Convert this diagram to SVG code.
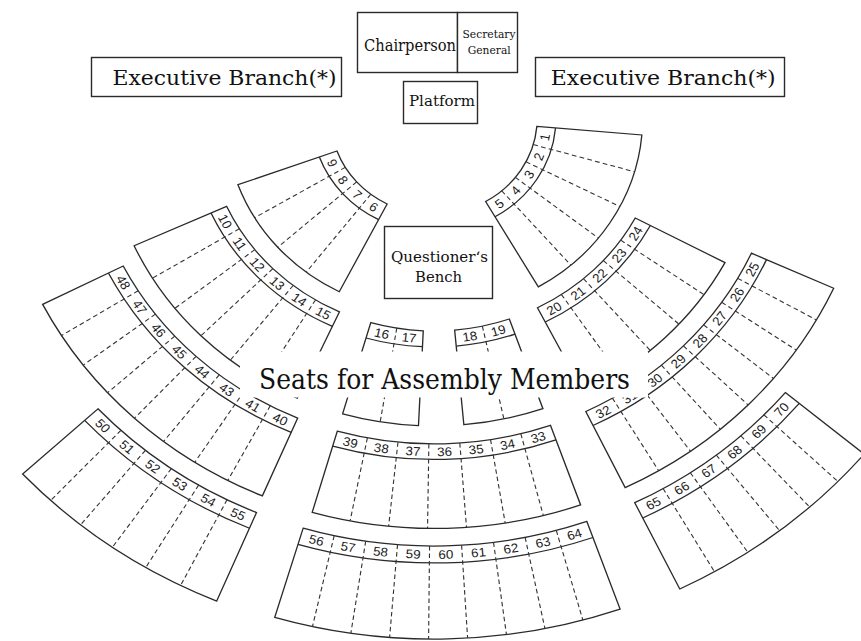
<svg xmlns="http://www.w3.org/2000/svg" width="861" height="641" viewBox="0 0 861 641">
<style>
.box{fill:#fff;stroke:#2a2a2a;stroke-width:1.4}
.ser{fill:#111;text-anchor:middle}
.blk{fill:#fff;stroke:#2a2a2a;stroke-width:1.25}
.strip{fill:none;stroke:#2a2a2a;stroke-width:1.25}
.dash{fill:none;stroke:#333;stroke-width:1.05;stroke-dasharray:4.5 3}
.num{font-family:'Liberation Sans',Arial,sans-serif;font-size:12.5px;fill:#1a1a1a;text-anchor:middle;dominant-baseline:central}
</style>
<rect width="861" height="641" fill="#fff"/>

<g id="chairperson">
<rect class="box" x="357.5" y="12.5" width="100" height="60"/>
<text class="ser" font-family="DejaVu Serif" x="410" y="51" font-size="16" textLength="92" lengthAdjust="spacingAndGlyphs">Chairperson</text>
</g>
<g id="secretary-general">
<rect class="box" x="457.5" y="12.5" width="60" height="60"/>
<text class="ser" font-family="DejaVu Serif" x="489" y="38" font-size="11" textLength="53" lengthAdjust="spacingAndGlyphs">Secretary</text>
<text class="ser" font-family="DejaVu Serif" x="489.2" y="53.5" font-size="11" textLength="43" lengthAdjust="spacingAndGlyphs">General</text>
</g>
<g id="platform">
<rect class="box" x="403.5" y="81.5" width="74" height="42"/>
<text class="ser" font-family="DejaVu Serif" x="442" y="106" font-size="15" textLength="66" lengthAdjust="spacingAndGlyphs">Platform</text>
</g>
<g id="executive-left">
<rect class="box" x="91.5" y="57.5" width="250" height="39"/>
<text class="ser" font-family="DejaVu Serif" x="224.5" y="84.5" font-size="20.5" textLength="224" lengthAdjust="spacingAndGlyphs">Executive Branch(*)</text>
</g>
<g id="executive-right">
<rect class="box" x="535.5" y="57.5" width="249" height="39"/>
<text class="ser" font-family="DejaVu Serif" x="663.2" y="84.5" font-size="20.5" textLength="225" lengthAdjust="spacingAndGlyphs">Executive Branch(*)</text>
</g>
<g id="questioners-bench">
<rect class="box" x="384.5" y="226.5" width="108" height="72"/>
<text class="ser" font-family="DejaVu Serif" x="439.5" y="262" font-size="14.5" textLength="97" lengthAdjust="spacingAndGlyphs">Questioner‘s</text>
<text class="ser" font-family="DejaVu Serif" x="438.5" y="282" font-size="14.5" textLength="47" lengthAdjust="spacingAndGlyphs">Bench</text>
</g>

<g id="seating" transform="translate(434 118) scale(1.07 1)">

<g id="seats-1-5" transform="rotate(5)">
<path class="blk" d="M96.5 0 L195 0 A195 195 0 0 1 111.85 159.74 L55.35 79.05 A96.5 96.5 0 0 0 96.5 0 Z"/>
<path class="strip" d="M114 0 A114 114 0 0 1 65.39 93.39"/>
<g class="dash"><line x1="96.5" x2="195" transform="rotate(11)"/><line x1="96.5" x2="195" transform="rotate(22)"/><line x1="96.5" x2="195" transform="rotate(33)"/><line x1="96.5" x2="195" transform="rotate(44)"/></g>
<text class="num" transform="rotate(5.5) translate(105.25 0) rotate(-90)">1</text>
<text class="num" transform="rotate(16.5) translate(105.25 0) rotate(-90)">2</text>
<text class="num" transform="rotate(27.5) translate(105.25 0) rotate(-90)">3</text>
<text class="num" transform="rotate(38.5) translate(105.25 0) rotate(-90)">4</text>
<text class="num" transform="rotate(49.5) translate(105.25 0) rotate(-90)">5</text>
</g>

<g id="seats-6-9" transform="rotate(117)">
<path class="blk" d="M96.5 0 L195 0 A195 195 0 0 1 142.62 132.99 L70.58 65.81 A96.5 96.5 0 0 0 96.5 0 Z"/>
<path class="strip" d="M114 0 A114 114 0 0 1 83.38 77.75"/>
<g class="dash"><line x1="96.5" x2="195" transform="rotate(10.75)"/><line x1="96.5" x2="195" transform="rotate(21.5)"/><line x1="96.5" x2="195" transform="rotate(32.25)"/></g>
<text class="num" transform="rotate(5.375) translate(105.25 0) rotate(-90)">6</text>
<text class="num" transform="rotate(16.125) translate(105.25 0) rotate(-90)">7</text>
<text class="num" transform="rotate(26.875) translate(105.25 0) rotate(-90)">8</text>
<text class="num" transform="rotate(37.625) translate(105.25 0) rotate(-90)">9</text>
</g>

<g id="seats-10-15" transform="rotate(114.5)">
<path class="blk" d="M213 0 L308 0 A308 308 0 0 1 232.45 202.08 L160.75 139.75 A213 213 0 0 0 213 0 Z"/>
<path class="strip" d="M229 0 A229 229 0 0 1 172.83 150.25"/>
<g class="dash"><line x1="213" x2="308" transform="rotate(6.833)"/><line x1="213" x2="308" transform="rotate(13.667)"/><line x1="213" x2="308" transform="rotate(20.5)"/><line x1="213" x2="308" transform="rotate(27.333)"/><line x1="213" x2="308" transform="rotate(34.167)"/></g>
<text class="num" transform="rotate(3.417) translate(221 0) rotate(-90)">15</text>
<text class="num" transform="rotate(10.25) translate(221 0) rotate(-90)">14</text>
<text class="num" transform="rotate(17.083) translate(221 0) rotate(-90)">13</text>
<text class="num" transform="rotate(23.917) translate(221 0) rotate(-90)">12</text>
<text class="num" transform="rotate(30.75) translate(221 0) rotate(-90)">11</text>
<text class="num" transform="rotate(37.583) translate(221 0) rotate(-90)">10</text>
</g>

<g id="seats-16-17" transform="rotate(92.7)">
<path class="blk" d="M213 0 L308 0 A308 308 0 0 1 299.6 71.38 L207.19 49.36 A213 213 0 0 0 213 0 Z"/>
<path class="strip" d="M229 0 A229 229 0 0 1 222.76 53.07"/>
<g class="dash"><line x1="213" x2="308" transform="rotate(6.7)"/></g>
<text class="num" transform="rotate(3.35) translate(221 0) rotate(-90)">17</text>
<text class="num" transform="rotate(10.05) translate(221 0) rotate(-90)">16</text>
</g>

<g id="seats-18-19" transform="rotate(70.7)">
<path class="blk" d="M213 0 L308 0 A308 308 0 0 1 298.72 75.03 L206.58 51.89 A213 213 0 0 0 213 0 Z"/>
<path class="strip" d="M229 0 A229 229 0 0 1 222.1 55.79"/>
<g class="dash"><line x1="213" x2="308" transform="rotate(7.05)"/></g>
<text class="num" transform="rotate(3.525) translate(221 0) rotate(-90)">19</text>
<text class="num" transform="rotate(10.575) translate(221 0) rotate(-90)">18</text>
</g>

<g id="seats-20-24" transform="rotate(28)">
<path class="blk" d="M213 0 L308 0 A308 308 0 0 1 252.31 176.67 L174.49 122.18 A213 213 0 0 0 213 0 Z"/>
<path class="strip" d="M229 0 A229 229 0 0 1 187.6 131.35"/>
<g class="dash"><line x1="213" x2="308" transform="rotate(7)"/><line x1="213" x2="308" transform="rotate(14)"/><line x1="213" x2="308" transform="rotate(21)"/><line x1="213" x2="308" transform="rotate(28)"/></g>
<text class="num" transform="rotate(3.5) translate(221 0) rotate(-90)">24</text>
<text class="num" transform="rotate(10.5) translate(221 0) rotate(-90)">23</text>
<text class="num" transform="rotate(17.5) translate(221 0) rotate(-90)">22</text>
<text class="num" transform="rotate(24.5) translate(221 0) rotate(-90)">21</text>
<text class="num" transform="rotate(31.5) translate(221 0) rotate(-90)">20</text>
</g>

<g id="seats-40-48" transform="rotate(113)">
<path class="blk" d="M326 0 L410.5 0 A410.5 410.5 0 0 1 314.44 263.87 L249.72 209.55 A326 326 0 0 0 326 0 Z"/>
<path class="strip" d="M341.5 0 A341.5 341.5 0 0 1 261.59 219.52"/>
<g class="dash"><line x1="326" x2="410.5" transform="rotate(5)"/><line x1="326" x2="410.5" transform="rotate(10)"/><line x1="326" x2="410.5" transform="rotate(15)"/><line x1="326" x2="410.5" transform="rotate(20)"/><line x1="326" x2="410.5" transform="rotate(25)"/><line x1="326" x2="410.5" transform="rotate(30)"/><line x1="326" x2="410.5" transform="rotate(35)"/></g>
<text class="num" transform="rotate(2.5) translate(333.75 0) rotate(-90)">40</text>
<text class="num" transform="rotate(7.5) translate(333.75 0) rotate(-90)">41</text>
<text class="num" transform="rotate(12.5) translate(333.75 0) rotate(-90)">43</text>
<text class="num" transform="rotate(17.5) translate(333.75 0) rotate(-90)">44</text>
<text class="num" transform="rotate(22.5) translate(333.75 0) rotate(-90)">45</text>
<text class="num" transform="rotate(27.5) translate(333.75 0) rotate(-90)">46</text>
<text class="num" transform="rotate(32.5) translate(333.75 0) rotate(-90)">47</text>
<text class="num" transform="rotate(37.5) translate(333.75 0) rotate(-90)">48</text>
</g>

<g id="seats-33-39" transform="rotate(70.5)">
<path class="blk" d="M326 0 L410.5 0 A410.5 410.5 0 0 1 333.77 238.96 L265.06 189.77 A326 326 0 0 0 326 0 Z"/>
<path class="strip" d="M341.5 0 A341.5 341.5 0 0 1 277.66 198.79"/>
<g class="dash"><line x1="326" x2="410.5" transform="rotate(5.086)"/><line x1="326" x2="410.5" transform="rotate(10.171)"/><line x1="326" x2="410.5" transform="rotate(15.257)"/><line x1="326" x2="410.5" transform="rotate(20.343)"/><line x1="326" x2="410.5" transform="rotate(25.429)"/><line x1="326" x2="410.5" transform="rotate(30.514)"/></g>
<text class="num" transform="rotate(2.543) translate(333.75 0) rotate(-90)">33</text>
<text class="num" transform="rotate(7.629) translate(333.75 0) rotate(-90)">34</text>
<text class="num" transform="rotate(12.714) translate(333.75 0) rotate(-90)">35</text>
<text class="num" transform="rotate(17.8) translate(333.75 0) rotate(-90)">36</text>
<text class="num" transform="rotate(22.886) translate(333.75 0) rotate(-90)">37</text>
<text class="num" transform="rotate(27.971) translate(333.75 0) rotate(-90)">38</text>
<text class="num" transform="rotate(33.057) translate(333.75 0) rotate(-90)">39</text>
</g>

<g id="seats-25-32" transform="rotate(24.5)">
<path class="blk" d="M326 0 L410.5 0 A410.5 410.5 0 0 1 315.83 262.21 L250.81 208.23 A326 326 0 0 0 326 0 Z"/>
<path class="strip" d="M341.5 0 A341.5 341.5 0 0 1 262.74 218.13"/>
<g class="dash"><line x1="326" x2="410.5" transform="rotate(4.963)"/><line x1="326" x2="410.5" transform="rotate(9.925)"/><line x1="326" x2="410.5" transform="rotate(14.888)"/><line x1="326" x2="410.5" transform="rotate(19.85)"/><line x1="326" x2="410.5" transform="rotate(24.813)"/><line x1="326" x2="410.5" transform="rotate(29.775)"/><line x1="326" x2="410.5" transform="rotate(34.738)"/></g>
<text class="num" transform="rotate(2.481) translate(333.75 0) rotate(-90)">25</text>
<text class="num" transform="rotate(7.444) translate(333.75 0) rotate(-90)">26</text>
<text class="num" transform="rotate(12.406) translate(333.75 0) rotate(-90)">27</text>
<text class="num" transform="rotate(17.369) translate(333.75 0) rotate(-90)">28</text>
<text class="num" transform="rotate(22.331) translate(333.75 0) rotate(-90)">29</text>
<text class="num" transform="rotate(27.294) translate(333.75 0) rotate(-90)">30</text>
<text class="num" transform="rotate(32.256) translate(333.75 0) rotate(-90)">31</text>
<text class="num" transform="rotate(37.219) translate(333.75 0) rotate(-90)">32</text>
</g>

<g id="seats-50-55" transform="rotate(112.8)">
<path class="blk" d="M428 0 L524 0 A524 524 0 0 1 477.18 216.46 L389.76 176.8 A428 428 0 0 0 428 0 Z"/>
<path class="strip" d="M445 0 A445 445 0 0 1 405.24 183.83"/>
<g class="dash"><line x1="428" x2="524" transform="rotate(4.067)"/><line x1="428" x2="524" transform="rotate(8.133)"/><line x1="428" x2="524" transform="rotate(12.2)"/><line x1="428" x2="524" transform="rotate(16.267)"/><line x1="428" x2="524" transform="rotate(20.333)"/></g>
<text class="num" transform="rotate(2.033) translate(436.5 0) rotate(-90)">55</text>
<text class="num" transform="rotate(6.1) translate(436.5 0) rotate(-90)">54</text>
<text class="num" transform="rotate(10.167) translate(436.5 0) rotate(-90)">53</text>
<text class="num" transform="rotate(14.233) translate(436.5 0) rotate(-90)">52</text>
<text class="num" transform="rotate(18.3) translate(436.5 0) rotate(-90)">51</text>
<text class="num" transform="rotate(22.367) translate(436.5 0) rotate(-90)">50</text>
</g>

<g id="seats-56-64" transform="rotate(70.5)">
<path class="blk" d="M428 0 L521 0 A521 521 0 0 1 420.96 306.97 L345.82 252.17 A428 428 0 0 0 428 0 Z"/>
<path class="strip" d="M445 0 A445 445 0 0 1 359.55 262.19"/>
<g class="dash"><line x1="428" x2="521" transform="rotate(4.011)"/><line x1="428" x2="521" transform="rotate(8.022)"/><line x1="428" x2="521" transform="rotate(12.033)"/><line x1="428" x2="521" transform="rotate(16.044)"/><line x1="428" x2="521" transform="rotate(20.056)"/><line x1="428" x2="521" transform="rotate(24.067)"/><line x1="428" x2="521" transform="rotate(28.078)"/><line x1="428" x2="521" transform="rotate(32.089)"/></g>
<text class="num" transform="rotate(2.006) translate(436.5 0) rotate(-90)">64</text>
<text class="num" transform="rotate(6.017) translate(436.5 0) rotate(-90)">63</text>
<text class="num" transform="rotate(10.028) translate(436.5 0) rotate(-90)">62</text>
<text class="num" transform="rotate(14.039) translate(436.5 0) rotate(-90)">61</text>
<text class="num" transform="rotate(18.05) translate(436.5 0) rotate(-90)">60</text>
<text class="num" transform="rotate(22.061) translate(436.5 0) rotate(-90)">59</text>
<text class="num" transform="rotate(26.072) translate(436.5 0) rotate(-90)">58</text>
<text class="num" transform="rotate(30.083) translate(436.5 0) rotate(-90)">57</text>
<text class="num" transform="rotate(34.094) translate(436.5 0) rotate(-90)">56</text>
</g>

<g id="seats-65-70" transform="rotate(39.9)">
<path class="blk" d="M428 0 L524 0 A524 524 0 0 1 478.32 213.96 L390.69 174.77 A428 428 0 0 0 428 0 Z"/>
<path class="strip" d="M445 0 A445 445 0 0 1 406.21 181.71"/>
<g class="dash"><line x1="428" x2="524" transform="rotate(4.017)"/><line x1="428" x2="524" transform="rotate(8.033)"/><line x1="428" x2="524" transform="rotate(12.05)"/><line x1="428" x2="524" transform="rotate(16.067)"/><line x1="428" x2="524" transform="rotate(20.083)"/></g>
<text class="num" transform="rotate(2.008) translate(436.5 0) rotate(-90)">70</text>
<text class="num" transform="rotate(6.025) translate(436.5 0) rotate(-90)">69</text>
<text class="num" transform="rotate(10.042) translate(436.5 0) rotate(-90)">68</text>
<text class="num" transform="rotate(14.058) translate(436.5 0) rotate(-90)">67</text>
<text class="num" transform="rotate(18.075) translate(436.5 0) rotate(-90)">66</text>
<text class="num" transform="rotate(22.092) translate(436.5 0) rotate(-90)">65</text>
</g>
</g>

<g id="title">
<rect x="240" y="351.5" width="408" height="46" fill="#fff"/>
<text class="ser" font-family="DejaVu Serif" x="444.5" y="389" font-size="28" textLength="371" lengthAdjust="spacingAndGlyphs">Seats for Assembly Members</text>
</g>
</svg>
